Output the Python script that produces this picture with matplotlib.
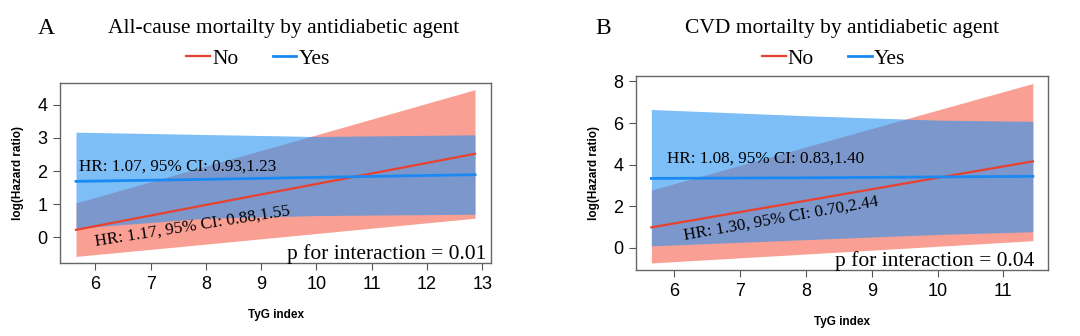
import matplotlib
matplotlib.use("Agg")
import matplotlib.pyplot as plt
from matplotlib.lines import Line2D
import numpy as np

SERIF = ["Liberation Serif", "DejaVu Serif"]
SANS = ["Liberation Sans", "DejaVu Sans"]

RED_LINE = "#E8412F"
BLUE_LINE = "#1A8AF2"
RED_BAND = "#FA9F93"
BLUE_BAND = "#2693F3"

# -- Panel A: all-cause mortality
a_x = [5.65, 8.0, 10.0, 12.87]
a_no_fit = [0.23, 0.98, 1.61, 2.52]
a_no_lo = [-0.57, -0.20, 0.12, 0.58]
a_no_hi = [1.04, 2.15, 3.09, 4.45]
a_yes_fit = [1.69, 1.75, 1.81, 1.89]
a_yes_lo = [0.28, 0.58, 0.66, 0.70]
a_yes_hi = [3.17, 3.10, 3.04, 3.09]

# -- Panel B: CVD mortality
b_x = [5.65, 8.0, 10.0, 11.45]
b_no_fit = [0.99, 2.27, 3.37, 4.16]
b_no_lo = [-0.72, -0.29, 0.08, 0.35]
b_no_hi = [2.78, 4.85, 6.62, 7.90]
b_yes_fit = [3.34, 3.37, 3.41, 3.44]
b_yes_lo = [0.10, 0.40, 0.65, 0.78]
b_yes_hi = [6.65, 6.35, 6.14, 6.08]

panels = [
    dict(
        letter="A", title="All-cause mortailty by antidiabetic agent",
        x=a_x, no=(a_no_fit, a_no_lo, a_no_hi), yes=(a_yes_fit, a_yes_lo, a_yes_hi),
        yticks=[0, 1, 2, 3, 4], xticks=list(range(6, 14)),
        hr_yes="HR: 1.07, 95% CI: 0.93,1.23", hr_yes_pos=(5.71, 2.02),
        hr_no="HR: 1.17, 95% CI: 0.88,1.55", hr_no_pos=(6.01, -0.26), hr_no_rot=9,
        p="p for interaction = 0.01", p_x=0.99,
        rect=[0.0556, 0.217, 0.399, 0.536],
        letter_x=0.035, title_x=0.263, legend_x=0.239,
    ),
    dict(
        letter="B", title="CVD mortailty by antidiabetic agent",
        x=b_x, no=(b_no_fit, b_no_lo, b_no_hi), yes=(b_yes_fit, b_yes_lo, b_yes_hi),
        yticks=[0, 2, 4, 6, 8], xticks=list(range(6, 12)),
        hr_yes="HR: 1.08, 95% CI: 0.83,1.40", hr_yes_pos=(5.89, 4.11),
        hr_no="HR: 1.30, 95% CI: 0.70,2.44", hr_no_pos=(6.15, 0.38), hr_no_rot=10,
        p="p for interaction = 0.04", p_x=0.966,
        rect=[0.589, 0.196, 0.3815, 0.577],
        letter_x=0.551, title_x=0.78, legend_x=0.772,
    ),
]

fig = plt.figure(figsize=(10.8, 3.36), dpi=100)

for p in panels:
    ax = fig.add_axes(p["rect"])
    x = np.array(p["x"])
    no_fit, no_lo, no_hi = p["no"]
    yes_fit, yes_lo, yes_hi = p["yes"]

    ax.fill_between(x, no_lo, no_hi, color=RED_BAND, lw=0, zorder=1)
    ax.fill_between(x, yes_lo, yes_hi, color=BLUE_BAND, alpha=0.6, lw=0, zorder=2)
    ax.plot(x, no_fit, color=RED_LINE, lw=1.6, zorder=3)
    ax.plot(x, yes_fit, color=BLUE_LINE, lw=2.0, zorder=3)

    ax.margins(x=0.04, y=0.04)
    ax.set_xticks(p["xticks"])
    ax.set_yticks(p["yticks"])
    ax.tick_params(direction="out", length=5, width=0.8, color="#555555",
                   labelsize=13, pad=4)
    for lbl in ax.get_xticklabels() + ax.get_yticklabels():
        lbl.set_family(SANS)
    for s in ax.spines.values():
        s.set_color("#666666")
        s.set_linewidth(1.0)

    ax.set_xlabel("TyG index", family=SANS, fontweight="bold", fontsize=8.5, labelpad=12)
    ax.set_ylabel("log(Hazard ratio)", family=SANS, fontweight="bold", fontsize=8.5,
                  labelpad=10)

    ax.text(*p["hr_yes_pos"], p["hr_yes"], family=SERIF, fontsize=12.3,
            ha="left", va="baseline", zorder=4)
    ax.text(*p["hr_no_pos"], p["hr_no"], family=SERIF, fontsize=12.3,
            ha="left", va="baseline", rotation=p["hr_no_rot"],
            rotation_mode="anchor", zorder=4)
    ax.text(p["p_x"], 0.022, p["p"], transform=ax.transAxes, family=SERIF,
            fontsize=15.5, ha="right", va="baseline", zorder=4)

    fig.text(p["letter_x"], 0.915, p["letter"], family=SERIF, fontsize=17,
             ha="left", va="center")
    fig.text(p["title_x"], 0.915, p["title"], family=SERIF, fontsize=15.5,
             ha="center", va="center")

    handles = [Line2D([], [], color=RED_LINE, lw=1.6, label="No"),
               Line2D([], [], color=BLUE_LINE, lw=2.0, label="Yes")]
    fig.legend(handles=handles, loc="center", bbox_to_anchor=(p["legend_x"], 0.825),
               ncol=2, frameon=False, prop={"family": SERIF, "size": 15.5},
               handlelength=1.1, handletextpad=0.1, columnspacing=1.6,
               borderpad=0, borderaxespad=0)

fig.savefig("out.png", dpi=100)
